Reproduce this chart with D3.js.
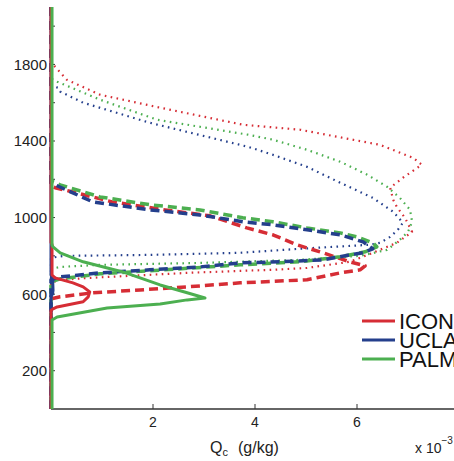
<!DOCTYPE html>
<html><head><meta charset="utf-8">
<script src="https://cdn.jsdelivr.net/npm/d3@7"></script>
<style>body{margin:0;background:#fff;}svg{display:block;font-family:"Liberation Sans",Arial,sans-serif;}</style>
</head><body>
<svg id="c" width="454" height="461"></svg>
<script>
// values: [height (m), Qc (x1e-3 g/kg)]
const models = ["ICON", "UCLA", "PALM"];
const colors = ["#d62d35", "#243f8c", "#4caf50"];
const xTicks = [2, 4, 6];
const yTicksMajor = [200, 600, 1000, 1400, 1800];
const yTicksAll = [200, 400, 600, 800, 1000, 1200, 1400, 1600, 1800, 2000];

const iconDotted = [[2100,0],[1814,0],[1788,0.08],[1720,0.31],[1642,0.96],[1574,2.14],[1485,3.76],[1459,4.88],[1380,6.45],[1312,7.10],[1276,7.27],[1208,6.90],[1156,6.65],[1093,6.71],[1056,6.78],[999,6.94],[925,7.08],[868,6.78],[816,6.31],[769,5.86],[737,5.02],[727,4.35],[722,3.76],[711,2.67],[685,0.76],[675,0.18],[659,0],[0,0]];
const uclaDotted = [[2100,0],[1690,0],[1678,0.14],[1658,0.18],[1600,0.63],[1495,1.94],[1370,3.86],[1328,4.35],[1265,5.02],[1182,5.67],[1103,6.31],[1030,6.71],[973,6.90],[936,6.80],[899,6.65],[868,6.45],[858,6.25],[837,4.88],[816,3.71],[805,1.94],[800,0.27],[790,0],[0,0]];
const palmDotted = [[2100,0],[1730,0],[1720,0.04],[1710,0.12],[1616,0.96],[1511,2.08],[1433,3.86],[1407,4.35],[1354,5.02],[1292,5.67],[1224,6.20],[1161,6.59],[1103,6.84],[1041,7.04],[978,7.08],[925,7.00],[884,6.84],[831,6.59],[800,6.06],[779,4.88],[763,2.92],[753,0.96],[742,0.18],[732,0],[0,0]];

const iconDashed = [[2100,0],[1165,0],[1156,0.08],[1135,0.41],[1082,1.20],[1040,2.24],[1009,3.12],[946,3.84],[910,4.35],[858,4.82],[816,5.33],[769,5.86],[748,6.16],[727,6.06],[711,5.67],[675,5.02],[659,3.71],[638,2.67],[622,1.75],[607,0.82],[586,0.18],[575,0],[0,0]];
const uclaDashed = [[2100,0],[1182,0],[1171,0.08],[1082,0.82],[1040,1.94],[1014,2.92],[978,3.76],[962,4.35],[936,5.02],[910,5.67],[873,6.12],[837,6.31],[816,6.12],[805,5.86],[779,5.33],[769,4.49],[763,3.71],[742,2.92],[727,1.94],[711,0.96],[690,0.18],[675,0],[0,0]];
const palmDashed = [[2100,0],[1192,0],[1171,0.18],[1108,0.96],[1067,1.94],[1040,2.92],[999,3.76],[978,4.35],[946,5.02],[920,5.67],[899,6.00],[868,6.31],[847,6.39],[821,6.16],[795,5.67],[769,4.88],[753,3.71],[722,1.94],[706,0.96],[680,0.18],[664,0],[0,0]];

const iconSolid = [[2100,0],[870,0],[860,0.02],[700,0.02],[685,0.08],[659,0.43],[638,0.63],[612,0.76],[586,0.73],[560,0.63],[533,0.12],[523,0.04],[515,0],[0,0]];
const uclaSolid = [[2100,0],[700,0],[690,0.03],[620,0.04],[600,0.03],[590,0],[0,0]];
const palmSolid = [[2100,0.02],[857,0.02],[847,0.04],[816,0.18],[769,0.63],[716,1.41],[648,2.14],[607,2.67],[580,3.02],[570,2.67],[549,2.14],[528,1.10],[481,0.12],[465,0.02],[0,0.02]];

const svg = d3.select("#c");
const x = d3.scaleLinear().domain([0, 8]).range([51, 459]);
const y = d3.scaleLinear().domain([0, 2100]).range([409, 7]);
const axisColor = "#333";

// axes
svg.append("line").attr("x1", x(0)).attr("x2", 454).attr("y1", y(0)).attr("y2", y(0)).attr("stroke", axisColor).attr("stroke-width", 1.5);
svg.append("line").attr("x1", x(0)).attr("x2", x(0)).attr("y1", y(0)).attr("y2", y(2100)).attr("stroke", axisColor).attr("stroke-width", 1.5);
svg.selectAll(".xt").data(xTicks).enter().append("line").attr("x1", d => x(d)).attr("x2", d => x(d)).attr("y1", y(0)).attr("y2", y(0) - 5).attr("stroke", axisColor);
svg.selectAll(".xl").data(xTicks).enter().append("text").attr("x", d => x(d)).attr("y", 427).attr("text-anchor", "middle").attr("font-size", 14).attr("fill", "#222").text(d => d);
svg.selectAll(".yt").data(yTicksAll).enter().append("line").attr("x1", x(0)).attr("x2", x(0) + 4).attr("y1", d => y(d)).attr("y2", d => y(d)).attr("stroke", axisColor);
svg.selectAll(".yl").data(yTicksMajor).enter().append("text").attr("x", 47).attr("y", d => y(d)).attr("dy", "0.36em").attr("text-anchor", "end").attr("font-size", 15).attr("fill", "#222").text(d => d);

const xl = svg.append("text").attr("x", 210).attr("y", 453).attr("font-size", 16).attr("fill", "#222");
xl.append("tspan").text("Q");
xl.append("tspan").attr("font-size", 11).attr("dy", 3).text("c");
xl.append("tspan").attr("dy", -3).attr("x", 238).text("(g/kg)");
const ex = svg.append("text").attr("x", 415).attr("y", 453).attr("font-size", 14).attr("fill", "#222");
ex.append("tspan").text("x 10");
ex.append("tspan").attr("font-size", 10).attr("dy", -9).text("−3");

const line = d3.line().x(d => x(d[1])).y(d => y(d[0]));
function draw(data, color, style) {
  const p = svg.append("path").attr("d", line(data)).attr("fill", "none").attr("stroke", color).attr("stroke-linejoin", "round");
  if (style === "dotted") p.attr("stroke-width", 2.2).attr("stroke-dasharray", "1.6,4.4");
  else if (style === "dashed") p.attr("stroke-width", 3.5).attr("stroke-dasharray", "9,5");
  else p.attr("stroke-width", 3);
}
draw(iconDotted, colors[0], "dotted");
draw(palmDotted, colors[2], "dotted");
draw(uclaDotted, colors[1], "dotted");
draw(iconDashed, colors[0], "dashed");
draw(palmDashed, colors[2], "dashed");
draw(uclaDashed, colors[1], "dashed");
draw(uclaSolid, colors[1], "solid");
draw(iconSolid, colors[0], "solid");
draw(palmSolid, colors[2], "solid");

// legend
const lg = svg.append("g");
models.forEach((m, i) => {
  const ly = 321 + i * 19;
  lg.append("line").attr("x1", 362).attr("x2", 395).attr("y1", ly).attr("y2", ly).attr("stroke", colors[i]).attr("stroke-width", 3);
  lg.append("text").attr("x", 399).attr("y", ly + 7.5).attr("font-size", 22).attr("fill", "#111").text(m);
});
</script>
</body></html>
